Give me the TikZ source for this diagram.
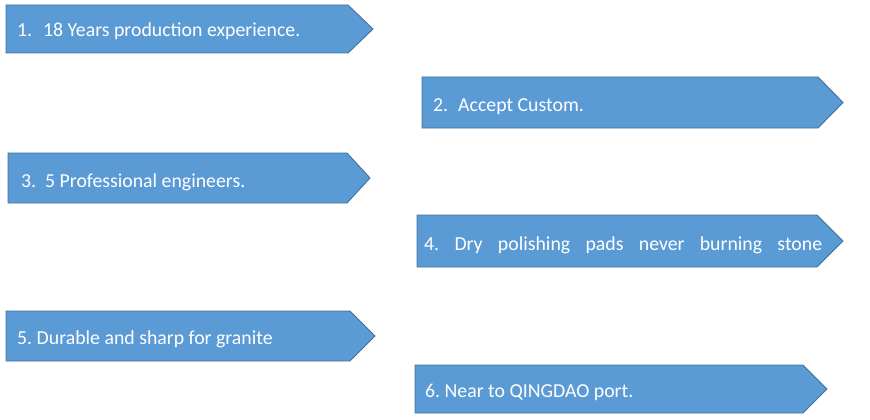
\documentclass[tikz,border=0pt]{standalone}
\usepackage{fontspec}
\setmainfont{Carlito}
\definecolor{boxfill}{RGB}{91,155,213}
\definecolor{boxline}{RGB}{65,113,156}
\tikzset{
  arrowbox/.style={fill=boxfill,draw=boxline,line width=0.9pt,line join=miter},
  label/.style={anchor=base west,inner sep=0pt,text=white,font=\fontsize{19.8}{22}\selectfont\frenchspacing}
}
\newcommand{\homeplate}[5]{% x1 y1 xbody xtip y2
  \path[arrowbox] (#1,#2) -- (#3,#2) -- (#4,{(#2+#5)/2}) -- (#3,#5) -- (#1,#5) -- cycle;}
\begin{document}
\begin{tikzpicture}[x=1pt,y=-1pt]
\useasboundingbox (0,0) rectangle (870,420);
\homeplate{6}{5}{348}{373}{53}
\homeplate{422}{77}{818}{843}{128}
\homeplate{8}{153}{347}{370}{203}
\homeplate{417}{215}{817}{843}{267}
\homeplate{6}{311}{350}{375}{361}
\homeplate{415}{365}{803}{827}{413}
\node[label] (t1) at (17,37) {\makebox[26pt][l]{1.}18 Years production experience.};
\node[label] (t2) at (433,111) {\makebox[25pt][l]{2.}Accept Custom.};
\node[label] (t3) at (21,187) {\makebox[24pt][l]{3.}5 Professional engineers.};
\node[label] (t4) at (424,250) {\makebox[398pt][s]{4. Dry polishing pads never burning stone}};
\node[label] (t5) at (17,344) {5. Durable and sharp for granite};
\node[label] (t6) at (425,397) {6. Near to QINGDAO port.};
\end{tikzpicture}
\end{document}
